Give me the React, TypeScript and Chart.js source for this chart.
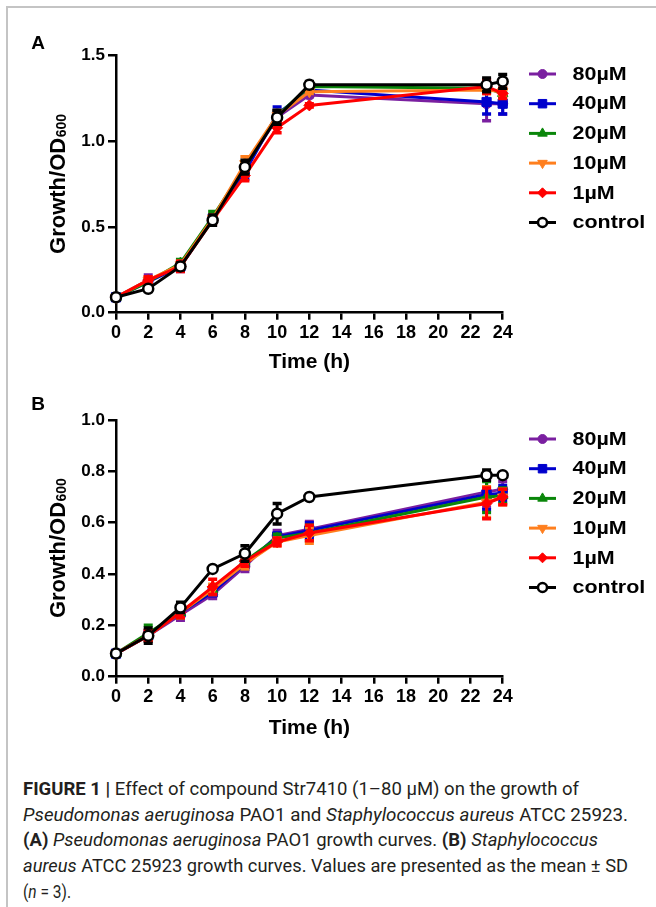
import React, { useEffect, useRef } from "react";
import { Chart, registerables } from "chart.js";
import { drawPoint } from "chart.js/helpers";

Chart.register(...registerables);

const FONT = "'Liberation Sans', Arial, Helvetica, sans-serif";

// ---------- data ----------
const hours = [0, 2, 4, 6, 8, 10, 12, 23, 24];
const seriesNames = ["80µM", "40µM", "20µM", "10µM", "1µM", "control"];
const xTicks = { min: 0, max: 24, step: 2 };
const yTicksA = { min: 0, max: 1.5, step: 0.5 };
const yTicksB = { min: 0, max: 1.0, step: 0.2 };

// Panel A – Pseudomonas aeruginosa PAO1 (OD600)
const a80 = [0.09, 0.19, 0.27, 0.55, 0.84, 1.14, 1.27, 1.22, 1.22];
const a40 = [0.09, 0.18, 0.27, 0.55, 0.82, 1.16, 1.30, 1.23, 1.22];
const a20 = [0.09, 0.18, 0.29, 0.56, 0.85, 1.15, 1.32, 1.31, 1.28];
const a10 = [0.09, 0.19, 0.28, 0.55, 0.87, 1.15, 1.29, 1.30, 1.29];
const a1 = [0.09, 0.19, 0.27, 0.54, 0.80, 1.08, 1.21, 1.32, 1.28];
const aCtrl = [0.09, 0.14, 0.27, 0.54, 0.85, 1.14, 1.33, 1.33, 1.35];
const a80Sd = [0.005, 0.03, 0.03, 0.02, 0.03, 0.03, 0.01, 0.1, 0.06];
const a40Sd = [0.005, 0.02, 0.02, 0.02, 0.04, 0.04, 0.01, 0.07, 0.06];
const a20Sd = [0.005, 0.02, 0.02, 0.03, 0.03, 0.03, 0.01, 0.02, 0.02];
const a10Sd = [0.005, 0.02, 0.02, 0.02, 0.04, 0.03, 0.01, 0.02, 0.02];
const a1Sd = [0.005, 0.02, 0.03, 0.02, 0.03, 0.03, 0.01, 0.04, 0.03];
const aCtrlSd = [0.005, 0.01, 0.02, 0.03, 0.04, 0.04, 0.02, 0.04, 0.04];

// Panel B – Staphylococcus aureus ATCC 25923 (OD600)
const b80 = [0.09, 0.16, 0.24, 0.32, 0.43, 0.55, 0.575, 0.72, 0.73];
const b40 = [0.09, 0.16, 0.25, 0.33, 0.44, 0.545, 0.57, 0.71, 0.715];
const b20 = [0.09, 0.17, 0.25, 0.34, 0.45, 0.54, 0.56, 0.7, 0.705];
const b10 = [0.09, 0.16, 0.25, 0.34, 0.44, 0.525, 0.55, 0.68, 0.7];
const b1 = [0.09, 0.16, 0.25, 0.35, 0.45, 0.525, 0.56, 0.675, 0.7];
const bCtrl = [0.09, 0.16, 0.27, 0.42, 0.48, 0.635, 0.7, 0.785, 0.785];
const b80Sd = [0.005, 0.02, 0.02, 0.015, 0.02, 0.02, 0.03, 0.06, 0.03];
const b40Sd = [0.005, 0.02, 0.02, 0.015, 0.02, 0.015, 0.03, 0.06, 0.03];
const b20Sd = [0.005, 0.03, 0.02, 0.015, 0.02, 0.015, 0.03, 0.06, 0.03];
const b10Sd = [0.005, 0.02, 0.02, 0.02, 0.02, 0.015, 0.03, 0.06, 0.03];
const b1Sd = [0.005, 0.02, 0.02, 0.03, 0.02, 0.015, 0.03, 0.06, 0.03];
const bCtrlSd = [0.005, 0.03, 0.02, 0.005, 0.03, 0.04, 0.005, 0.02, 0.005];

// ---------- styles ----------
const seriesStyles = [
  { color: "#7A1FA0", fill: "#7A1FA0", pointStyle: "circle", radius: 5, rotation: 0, pbw: 1 },
  { color: "#0000CD", fill: "#0000CD", pointStyle: "rect", radius: 6.5, rotation: 0, pbw: 1 },
  { color: "#0A860A", fill: "#0A860A", pointStyle: "triangle", radius: 6, rotation: 0, pbw: 1 },
  { color: "#FF7F1E", fill: "#FF7F1E", pointStyle: "triangle", radius: 6, rotation: 180, pbw: 1 },
  { color: "#FF0000", fill: "#FF0000", pointStyle: "rectRot", radius: 5.5, rotation: 0, pbw: 1 },
  { color: "#000000", fill: "#FFFFFF", pointStyle: "circle", radius: 5, rotation: 0, pbw: 2.5 },
];

const errorBarPlugin = {
  id: "errorBars",
  beforeDatasetDraw(chart: any, args: any) {
    const ds = chart.data.datasets[args.index];
    const sd: number[] = ds.sdValues;
    if (!sd) return;
    const yScale = chart.scales.y;
    const ctx = chart.ctx;
    ctx.save();
    ctx.strokeStyle = ds.borderColor;
    args.meta.data.forEach((pt: any, j: number) => {
      const v = ds.data[j].y;
      const top = yScale.getPixelForValue(v + sd[j]);
      const bot = yScale.getPixelForValue(v - sd[j]);
      ctx.lineWidth = 3;
      ctx.beginPath();
      ctx.moveTo(pt.x, top);
      ctx.lineTo(pt.x, bot);
      ctx.stroke();
      ctx.lineWidth = 3.5;
      ctx.beginPath();
      ctx.moveTo(pt.x - 4.5, top);
      ctx.lineTo(pt.x + 4.5, top);
      ctx.moveTo(pt.x - 4.5, bot);
      ctx.lineTo(pt.x + 4.5, bot);
      ctx.stroke();
    });
    ctx.restore();
  },
};

const decorPlugin = {
  id: "decor",
  afterDraw(chart: any, _args: any, opts: any) {
    const ctx = chart.ctx;
    const area = chart.chartArea;
    ctx.save();
    ctx.fillStyle = "#000";
    // panel letter
    ctx.font = `bold 19px ${FONT}`;
    ctx.textAlign = "center";
    ctx.textBaseline = "middle";
    ctx.fillText(opts.letter, 38, opts.letterY);

    // x title
    ctx.font = `bold 21px ${FONT}`;
    ctx.fillText("Time (h)", (area.left + area.right) / 2, area.bottom + opts.xTitleGap);

    // y title with subscript
    const cy = (area.top + area.bottom) / 2;
    ctx.save();
    ctx.translate(56.5, cy);
    ctx.rotate(-Math.PI / 2);
    ctx.textAlign = "left";
    ctx.textBaseline = "alphabetic";
    ctx.font = `bold 22px ${FONT}`;
    const main = "Growth/OD";
    const wMain = ctx.measureText(main).width;
    ctx.font = `bold 14px ${FONT}`;
    const sub = "600";
    const wSub = ctx.measureText(sub).width;
    const x0 = -(wMain + wSub) / 2;
    ctx.font = `bold 22px ${FONT}`;
    ctx.fillText(main, x0, 8);
    ctx.font = `bold 14px ${FONT}`;
    ctx.fillText(sub, x0 + wMain + 0.5, 9);
    ctx.restore();

    // legend
    chart.data.datasets.forEach((ds: any, i: number) => {
      const st = seriesStyles[i];
      const y = area.top + opts.legendTop + i * opts.legendStep;
      ctx.strokeStyle = st.color;
      ctx.lineWidth = 3;
      ctx.beginPath();
      ctx.moveTo(529, y);
      ctx.lineTo(556, y);
      ctx.stroke();
      ctx.fillStyle = st.fill;
      ctx.strokeStyle = st.color;
      ctx.lineWidth = st.pbw;
      drawPoint(ctx, { pointStyle: st.pointStyle, rotation: st.rotation, radius: st.radius - 0.5, borderWidth: st.pbw } as any, 542.5, y);
      ctx.save();
      ctx.fillStyle = "#000";
      ctx.font = `bold 19px ${FONT}`;
      ctx.textAlign = "left";
      ctx.textBaseline = "middle";
      ctx.translate(572.5, y + 0.5);
      ctx.scale(1.13, 1);
      ctx.fillText(ds.label, 0, 0);
      ctx.restore();
    });
    ctx.restore();
  },
};

function makeConfig(means: number[][], sds: number[][], yT: any, lay: any): any {
  const tickFontX = { family: FONT, size: 18, weight: "bold" };
  const tickFontY = { family: FONT, size: 17, weight: "bold" };
  return {
    type: "line",
    data: {
      datasets: means.map((m, i) => {
        const st = seriesStyles[i];
        return {
          label: seriesNames[i],
          data: hours.map((h, j) => ({ x: h, y: m[j] })),
          sdValues: sds[i],
          borderColor: st.color,
          backgroundColor: st.fill,
          borderWidth: 3,
          pointStyle: st.pointStyle,
          pointRadius: st.radius,
          pointRotation: st.rotation,
          pointBackgroundColor: st.fill,
          pointBorderColor: st.color,
          pointBorderWidth: st.pbw,
          tension: 0,
          fill: false,
          clip: false,
          order: 5 - i,
        };
      }),
    },
    options: {
      animation: false,
      responsive: false,
      maintainAspectRatio: false,
      events: [],
      layout: { padding: { top: lay.top, right: 153.3, left: 0, bottom: 0 } },
      plugins: {
        legend: { display: false },
        tooltip: { enabled: false },
        decor: lay.decor,
      },
      scales: {
        x: {
          type: "linear",
          min: xTicks.min,
          max: xTicks.max,
          ticks: { stepSize: xTicks.step, font: tickFontX, color: "#000", padding: 3, maxRotation: 0, autoSkip: false },
          grid: { drawOnChartArea: false, drawTicks: true, tickLength: 7, color: "#000", lineWidth: 2.5 },
          border: { display: true, color: "#000", width: 2.5 },
          afterFit: (s: any) => {
            s.height = lay.xAxisH;
          },
        },
        y: {
          type: "linear",
          min: yT.min,
          max: yT.max,
          ticks: {
            stepSize: yT.step,
            font: tickFontY,
            color: "#000",
            padding: 3,
            callback: (v: any) => Number(v).toFixed(1),
          },
          grid: { drawOnChartArea: false, drawTicks: true, tickLength: 8, color: "#000", lineWidth: 2.5 },
          border: { display: true, color: "#000", width: 2.5 },
          afterFit: (s: any) => {
            s.width = 116;
          },
        },
      },
    },
    plugins: [errorBarPlugin, decorPlugin],
  };
}

const captionTargets = [556, 605, 575, 605, 48];

export default function App() {
  const refA = useRef<HTMLCanvasElement>(null);
  const refB = useRef<HTMLCanvasElement>(null);
  const lineRefs = useRef<(HTMLSpanElement | null)[]>([]);

  useEffect(() => {
    const chartA = new Chart(
      refA.current as HTMLCanvasElement,
      makeConfig([a80, a40, a20, a10, a1, aCtrl], [a80Sd, a40Sd, a20Sd, a10Sd, a1Sd, aCtrlSd], yTicksA, {
        top: 55.7,
        xAxisH: 380 - 312.7,
        decor: { letter: "A", letterY: 43.5, xTitleGap: 49.5, legendTop: 18.3, legendStep: 29.7 },
      })
    );
    const chartB = new Chart(
      refB.current as HTMLCanvasElement,
      makeConfig([b80, b40, b20, b10, b1, bCtrl], [b80Sd, b40Sd, b20Sd, b10Sd, b1Sd, bCtrlSd], yTicksB, {
        top: 40,
        xAxisH: 370 - 296.7,
        decor: { letter: "B", letterY: 25, xTitleGap: 51.3, legendTop: 19, legendStep: 29.7 },
      })
    );
    lineRefs.current.forEach((el, i) => {
      if (!el) return;
      const w = el.getBoundingClientRect().width;
      if (w > 0) el.style.transform = `scaleX(${captionTargets[i] / w})`;
    });
    return () => {
      chartA.destroy();
      chartB.destroy();
    };
  }, []);

  const lineStyle = (i: number): React.CSSProperties => ({
    position: "absolute",
    left: 23,
    top: 777 + i * 25.7,
    lineHeight: "25.7px",
    whiteSpace: "nowrap",
    display: "inline-block",
    transformOrigin: "0 50%",
  });

  const B = (p: { children: React.ReactNode }) => <span style={{ fontWeight: 700 }}>{p.children}</span>;

  const lines: React.ReactNode[] = [
    <>
      <B>FIGURE 1</B> <B>|</B> Effect of compound Str7410 (1–80 µM) on the growth of
    </>,
    <>
      <i>Pseudomonas aeruginosa</i> PAO1 and <i>Staphylococcus aureus</i> ATCC 25923.
    </>,
    <>
      <B>(A)</B> <i>Pseudomonas aeruginosa</i> PAO1 growth curves. <B>(B)</B> <i>Staphylococcus</i>
    </>,
    <>
      <i>aureus</i> ATCC 25923 growth curves. Values are presented as the mean ± SD
    </>,
    <>
      (<i>n</i> = 3).
    </>,
  ];

  return (
    <div
      style={{
        position: "absolute",
        left: 0,
        top: 0,
        width: 656,
        height: 907,
        overflow: "hidden",
        background: "#fff",
      }}
    >
      <div
        style={{
          position: "absolute",
          left: 6,
          top: 6,
          width: 700,
          height: 950,
          borderTop: "2px solid #c4c4c4",
          borderLeft: "2px solid #c4c4c4",
        }}
      />
      <canvas ref={refA} width={656} height={380} style={{ position: "absolute", left: 0, top: 0, display: "block" }} />
      <canvas ref={refB} width={656} height={370} style={{ position: "absolute", left: 0, top: 380, display: "block" }} />
      <div style={{ fontFamily: "Roboto, 'Liberation Sans', Arial, sans-serif", fontSize: 18.5, color: "#231f20", fontWeight: 400 }}>
        {lines.map((ln, i) => (
          <span
            key={i}
            ref={(el) => {
              lineRefs.current[i] = el;
            }}
            style={lineStyle(i)}
          >
            {ln}
          </span>
        ))}
      </div>
    </div>
  );
}
